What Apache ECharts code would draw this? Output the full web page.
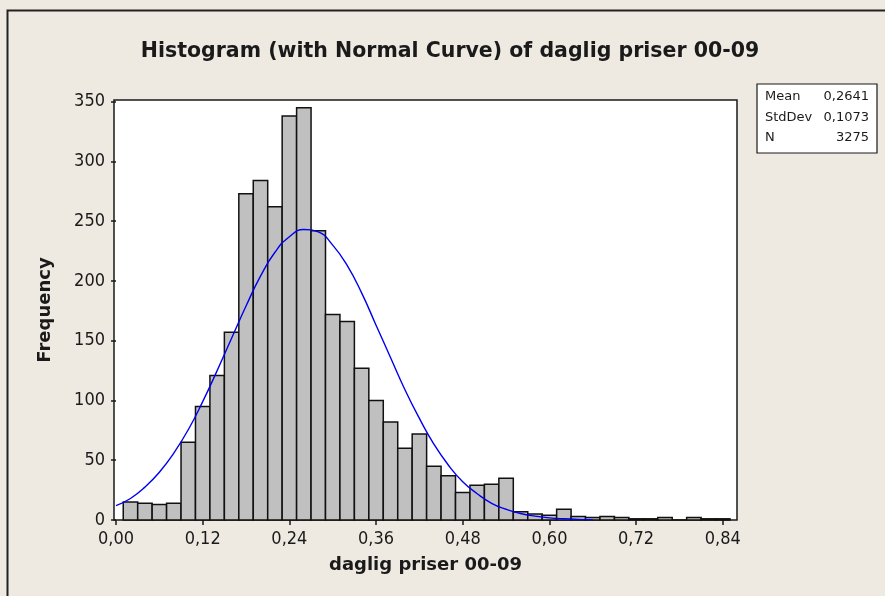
<!DOCTYPE html>
<html>
<head>
<meta charset="utf-8">
<script src="https://cdn.jsdelivr.net/npm/echarts@6/dist/echarts.min.js"></script>
<style>
html,body{margin:0;padding:0;background:#EEEAE1;}
#chart{width:885px;height:596px;}
</style>
</head>
<body>
<div id="chart"></div>
<script>
// ---- data ----
var titleText = 'Histogram (with Normal Curve) of daglig priser 00-09';
var xAxisTitle = 'daglig priser 00-09';
var yAxisTitle = 'Frequency';
var binWidth = 0.02;
var binCenters = [0.02,0.04,0.06,0.08,0.10,0.12,0.14,0.16,0.18,0.20,0.22,0.24,0.26,0.28,0.30,0.32,0.34,0.36,0.38,0.40,0.42,0.44,0.46,0.48,0.50,0.52,0.54,0.56,0.58,0.60,0.62,0.64,0.66,0.68,0.70,0.72,0.74,0.76,0.78,0.80,0.82,0.84];
var counts = [15,14,13,14,65,95,121,157,273,284,262,338,345,242,172,166,127,100,82,60,72,45,37,23,29,30,35,7,5,4,9,3,2,3,2,1,1,2,0,2,1,1];
var curveX = [0.00,0.02,0.04,0.06,0.08,0.10,0.12,0.14,0.16,0.18,0.20,0.22,0.24,0.26,0.28,0.30,0.32,0.34,0.36,0.38,0.40,0.42,0.44,0.46,0.48,0.50,0.52,0.54,0.56,0.58,0.60,0.62,0.64,0.66];
var curveY = [12,18,27.5,40,56,75.5,99,125,152,179,204,224,237,243,241,230,213,190,163,136,109,85,63.5,46,32,22,14,9,5.4,3.2,1.8,1,0.5,0.3];
var xTicks = [0.00,0.12,0.24,0.36,0.48,0.60,0.72,0.84];
var yTicks = [0,50,100,150,200,250,300,350];
var statNames = ['Mean','StdDev','N'];
var statValues = ['0,2641','0,1073','3275'];

var FONT = '"DejaVu Sans Condensed","DejaVu Sans",Tahoma,sans-serif';
var FONTB = '"DejaVu Sans",Tahoma,sans-serif';
var INK = '#1a1a1a';

var histData = binCenters.map(function(c,i){return [c,counts[i]];});
var curveData = curveX.map(function(x,i){return [x,curveY[i]];});

var legendChildren = [{
  type:'rect', shape:{x:757,y:84,width:120,height:69},
  style:{fill:'#fff',stroke:INK,lineWidth:1.2}
}];
statNames.forEach(function(n,i){
  var y = 97 + i*20.5;
  legendChildren.push({type:'text',style:{text:n,x:765,y:y,textVerticalAlign:'middle',font:'13px '+FONTB,fill:INK}});
  legendChildren.push({type:'text',style:{text:statValues[i],x:869,y:y,textAlign:'right',textVerticalAlign:'middle',font:'13px '+FONTB,fill:INK}});
});

var chart = echarts.init(document.getElementById('chart'), null, {renderer:'canvas'});
chart.setOption({
  backgroundColor:'#EEEAE1',
  animation:false,
  grid:{left:114,right:148,top:100,bottom:76,show:true,backgroundColor:'#fff',borderColor:INK,borderWidth:1.5},
  xAxis:{
    type:'value', min:-0.0028, max:0.8597,
    name:xAxisTitle, nameLocation:'middle', nameGap:36,
    nameTextStyle:{fontFamily:FONTB,fontWeight:'bold',fontSize:18,color:INK},
    axisLine:{show:false},
    splitLine:{show:false},
    axisTick:{show:true,inside:false,length:5,lineStyle:{color:INK,width:1.5},customValues:xTicks},
    axisLabel:{customValues:xTicks,margin:10,fontFamily:FONT,fontSize:18,color:INK,
      formatter:function(v){return v.toFixed(2).replace('.',',');}}
  },
  yAxis:{
    type:'value', min:0, max:351.4,
    name:yAxisTitle, nameLocation:'middle', nameGap:60, nameRotate:90,
    nameTextStyle:{fontFamily:FONTB,fontWeight:'bold',fontSize:18,color:INK},
    axisLine:{show:false},
    splitLine:{show:false},
    axisTick:{show:true,inside:false,length:5,lineStyle:{color:INK,width:1.5},customValues:yTicks},
    axisLabel:{customValues:yTicks,margin:9,fontFamily:FONT,fontSize:18,color:INK}
  },
  series:[{
    type:'custom',
    data:histData,
    renderItem:function(params,api){
      var c = api.value(0), v = api.value(1);
      var p1 = api.coord([c-binWidth/2, v]);
      var p2 = api.coord([c+binWidth/2, 0]);
      return {type:'rect',shape:{x:p1[0],y:p1[1],width:p2[0]-p1[0],height:p2[1]-p1[1]},
        style:{fill:'#C0C0C0',stroke:'#111',lineWidth:1.5}};
    },
    z:2
  },{
    type:'line',
    data:curveData,
    smooth:true,
    showSymbol:false,
    lineStyle:{color:'#0000F0',width:1.4},
    z:3
  }],
  graphic:[
    {type:'text',style:{text:titleText,x:450,y:52,textAlign:'center',textVerticalAlign:'middle',font:'bold 20.5px '+FONTB,fill:INK}},
    {type:'group',children:legendChildren},
    {type:'polyline',shape:{points:[[7.5,596],[7.5,10.5],[885,10.5]]},style:{stroke:'#222',lineWidth:2,fill:null}}
  ]
});
</script>
</body>
</html>
